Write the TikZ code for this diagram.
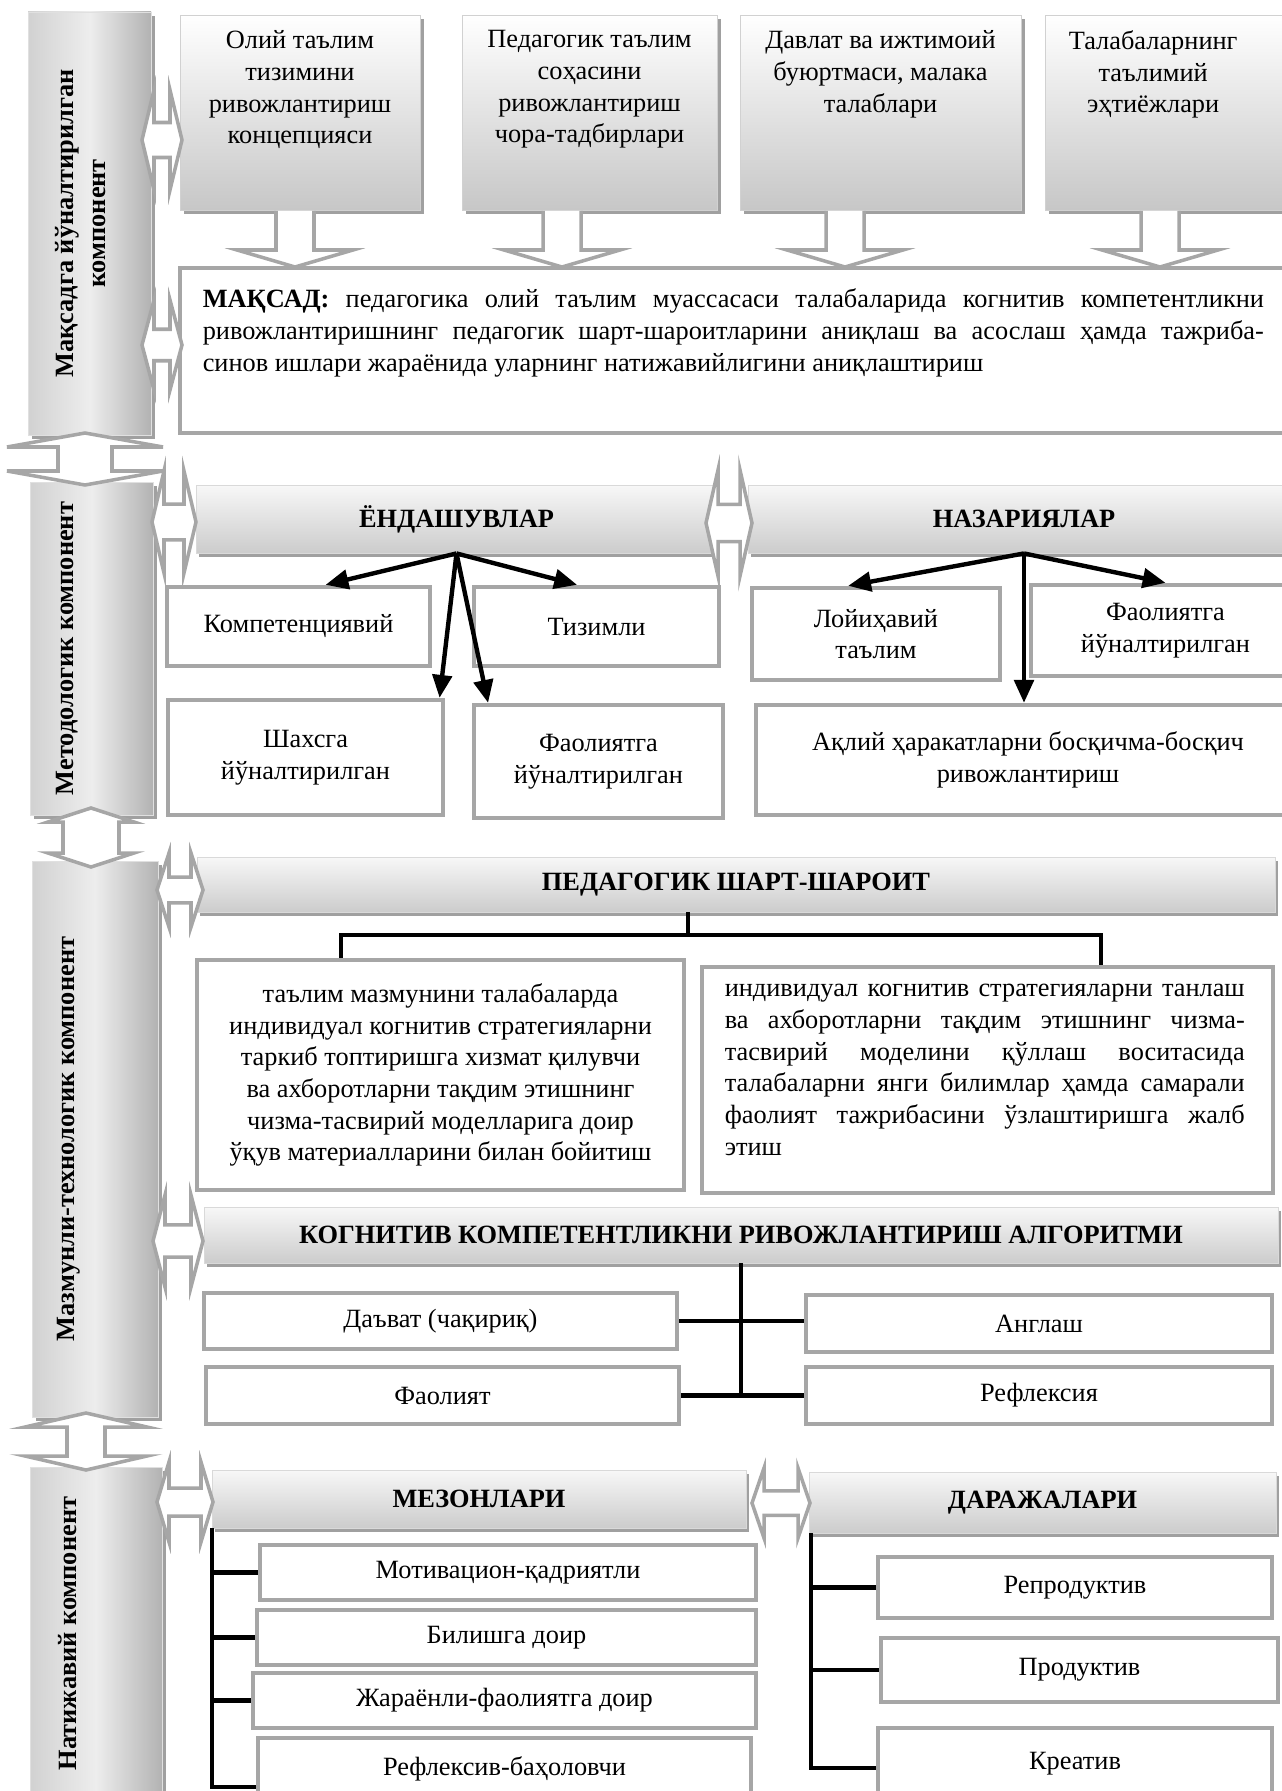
\documentclass[tikz,border=0pt]{standalone}
\usepackage{fontspec}
\setmainfont{Liberation Serif}
\usetikzlibrary{arrows.meta,positioning,shadows}

\definecolor{framegray}{RGB}{166,166,166}
\definecolor{shadowgray}{RGB}{160,160,160}
\newcommand\boxfont{\fontsize{15}{18}\selectfont}
\newcommand\fullline[2]{\makebox[#1][s]{#2}}

% grey block arrows: centre x, centre y, half width, half height
\newcommand\lrarr[4]{%
  \draw[blockarrow] (#1-#3,#2) -- (#1-#3+12,#2-#4) -- (#1-#3+12,#2-0.35*#4)
    -- (#1+#3-12,#2-0.35*#4) -- (#1+#3-12,#2-#4) -- (#1+#3,#2)
    -- (#1+#3-12,#2+#4) -- (#1+#3-12,#2+0.35*#4) -- (#1-#3+12,#2+0.35*#4)
    -- (#1-#3+12,#2+#4) -- cycle;}
% centre x, top tip, bottom tip, head half width, shaft half width
\newcommand\udarr[5]{%
  \draw[blockarrow] (#1,#2) -- (#1+#4,#2+14) -- (#1+#5,#2+14) -- (#1+#5,#3-14)
    -- (#1+#4,#3-14) -- (#1,#3) -- (#1-#4,#3-14) -- (#1-#5,#3-14)
    -- (#1-#5,#2+14) -- (#1-#4,#2+14) -- cycle;}
\newcommand\dnarr[1]{%
  \draw[blockarrow] (#1-19,211) -- (#1-19,250) -- (#1-58,250) -- (#1,267)
    -- (#1+58,250) -- (#1+19,250) -- (#1+19,211);}

\tikzset{
  sz/.style 2 args={minimum width=#1*0.02cm, minimum height=#2*0.02cm},
  plainbox/.style={draw=framegray, line width=2.5pt, fill=white, inner sep=0pt,
    align=center, font=\boxfont},
  srcbox/.style={draw=black!18, line width=0.5pt, top color=white, bottom color=black!22,
    inner sep=0pt, drop shadow={shadow xshift=2.2pt, shadow yshift=-2.2pt, fill=shadowgray, opacity=1}},
  headbox/.style={draw=black!15, line width=0.5pt, top color=black!3, bottom color=black!20,
    inner sep=0pt, font=\boxfont\bfseries,
    drop shadow={shadow xshift=1.5pt, shadow yshift=-2.5pt, fill=shadowgray, opacity=1}},
  barbox/.style={draw=black!12, line width=0.5pt, left color=black!18, right color=black!30,
    middle color=black!7, inner sep=0pt,
    drop shadow={shadow xshift=2pt, shadow yshift=-2pt, fill=shadowgray, opacity=1}},
  bartext/.style={rotate=90, align=center, font=\boxfont\bfseries},
  boxtext/.style={align=center, font=\boxfont, inner sep=0pt, anchor=north},
  link/.style={line width=2.5pt, black},
  linkarrow/.style={link, -{Triangle[length=13pt, width=11pt]}},
  blockarrow/.style={draw=framegray, line width=2pt, fill=white, line join=miter},
}

\begin{document}
\begin{tikzpicture}[x=0.02cm, y=-0.02cm]
\useasboundingbox (0,0) rectangle (1281,1791);

% components
\node[barbox, sz={123}{423}] (bar1) at (89.5,223.5) {};
\node[barbox, sz={123}{333}] (bar2) at (91.5,648.5) {};
\node[barbox, sz={126}{556}] (bar3) at (95,1139) {};
\node[barbox, sz={132}{333}] (bar4) at (96,1633.5) {};
\node[bartext] (bar1t) at ([xshift=-5pt]bar1.center) {Мақсадга йўналтирилган\\компонент};
\node[bartext] (bar2t) at ([xshift=-14pt]bar2.center) {Методологик компонент};
\node[bartext] (bar3t) at ([xshift=-15pt]bar3.center) {Мазмунли-технологик компонент};
\node[bartext] (bar4t) at ([xshift=-16pt]bar4.center) {Натижавий компонент};

% goal
\node[srcbox, sz={240}{195}] (src1) at (300,112.5) {};
\node[srcbox, sz={255}{195}] (src2) at (589.5,112.5) {};
\node[srcbox, sz={281}{195}] (src3) at (880.5,112.5) {};
\node[srcbox, sz={255}{195}] (src4) at (1172.5,112.5) {};
\node[boxtext, below=9pt of src1.north] (src1t) {Олий таълим\\тизимини\\ривожлантириш\\концепцияси};
\node[boxtext, below=9pt of src2.north] (src2t) {Педагогик таълим\\соҳасини\\ривожлантириш\\чора-тадбирлари};
\node[boxtext, below=9pt of src3.north] (src3t) {Давлат ва ижтимоий\\буюртмаси, малака\\талаблари};
\node[boxtext, below=9pt of src4.north, xshift=-11pt] (src4t) {Талабаларнинг\\таълимий\\эҳтиёжлари};

\node[plainbox, sz={1120}{165}] (goal) at (740,350.5) {};
\node[below right=13pt and 14pt of goal.north west, align=left, inner sep=0pt, font=\boxfont] (goalt)
  {\fullline{604pt}{\textbf{МАҚСАД:} педагогика олий таълим муассасаси талабаларида когнитив компетентликни}\\
   \fullline{604pt}{ривожлантиришнинг педагогик шарт-шароитларини аниқлаш ва асослаш ҳамда тажриба-}\\
   синов ишлари жараёнида уларнинг натижавийлигини аниқлаштириш};

% approaches and theories
\node[headbox, sz={521}{68}] (hdrA) at (456.5,519) {ЁНДАШУВЛАР};
\node[headbox, sz={552}{68}] (hdrB) at (1024,519) {НАЗАРИЯЛАР};
\node[plainbox, sz={263}{79}] (komp) at (298.5,626.5) {Компетенциявий};
\node[plainbox, sz={245}{79}] (tiz) at (596.5,626.5) {Тизимли};
\node[plainbox, sz={275}{115}] (shax) at (305.5,757.5) {Шахсга\\йўналтирилган};
\node[plainbox, sz={249}{113}] (faoL) at (598.5,761.5) {Фаолиятга\\йўналтирилган};
\node[plainbox, sz={248}{92}] (loy) at (876,634) {Лойиҳавий\\таълим};
\node[plainbox, sz={269}{91}] (faoR) at (1165.5,630.5) {Фаолиятга\\йўналтирилган};
\node[plainbox, sz={544}{110}] (akl) at (1028,760) {Ақлий ҳаракатларни босқичма-босқич\\ривожлантириш};

\draw[linkarrow] (hdrA.south) -- (komp.57);
\draw[linkarrow] (hdrA.south) -- (tiz.115);
\draw[linkarrow] (hdrA.south) -- (shax.24);
\draw[linkarrow] (hdrA.south) -- (faoL.152);
\draw[linkarrow] (hdrB.south) -- (loy.120);
\draw[linkarrow] (hdrB.south) -- (faoR.north);
\draw[linkarrow] (hdrB.south) -- (hdrB.south |- akl.north);

% pedagogical conditions
\node[headbox, sz={1078}{55}] (pedhdr) at (736,884.5) {ПЕДАГОГИК ШАРТ-ШАРОИТ};
\node[plainbox, sz={487}{230}] (pedL) at (440.5,1075) {таълим мазмунини талабаларда\\индивидуал когнитив стратегияларни\\таркиб топтиришга хизмат қилувчи\\ва ахборотларни тақдим этишнинг\\чизма-тасвирий моделларига доир\\ўқув материалларини билан бойитиш};
\node[plainbox, sz={571}{226}] (pedR) at (987.5,1080) {};
\node[below right=11pt and 14pt of pedR.north west, align=left, inner sep=0pt, font=\boxfont] (pedRt)
  {\fullline{296pt}{индивидуал когнитив стратегияларни танлаш}\\
   \fullline{296pt}{ва ахборотларни тақдим этишнинг чизма-}\\
   \fullline{296pt}{тасвирий моделини қўллаш воситасида}\\
   \fullline{296pt}{талабаларни янги билимлар ҳамда самарали}\\
   \fullline{296pt}{фаолият тажрибасини ўзлаштиришга жалб}\\
   этиш};
\coordinate (pedfork) at (688,935);
\coordinate (pedforkL) at (341,935);
\coordinate (pedforkR) at (1101,935);
\draw[link] (pedhdr.south -| pedfork) -- (pedfork);
\draw[link] (pedL.north -| pedforkL) -- (pedforkL) -- (pedforkR) -- (pedR.north -| pedforkR);

% algorithm
\node[headbox, sz={1074}{56}] (alghdr) at (741,1235) {КОГНИТИВ КОМПЕТЕНТЛИКНИ РИВОЖЛАНТИРИШ АЛГОРИТМИ};
\node[plainbox, sz={473}{56}] (dav) at (440.5,1321) {Даъват (чақириқ)};
\node[plainbox, sz={473}{57}] (fao) at (442.5,1395.5) {Фаолият};
\node[plainbox, sz={466}{57}] (ang) at (1039,1323.5) {Англаш};
\node[plainbox, sz={466}{57}] (ref) at (1039,1395.5) {Рефлексия};
\coordinate (algx) at (741,0);
\draw[link] (alghdr.south -| algx) -- (algx |- fao.east);
\draw[link] (dav.east) -- (dav.east -| ang.west);
\draw[link] (fao.east) -- (fao.east -| ref.west);

% criteria and levels
\node[headbox, sz={534}{58}] (mezhdr) at (479,1499) {МЕЗОНЛАРИ};
\node[headbox, sz={467}{61}] (darhdr) at (1042.5,1502.5) {ДАРАЖАЛАРИ};
\node[plainbox, sz={496}{55}] (mez1) at (508,1572.5) {Мотивацион-қадриятли};
\node[plainbox, sz={499}{55}] (mez2) at (506.5,1637.5) {Билишга доир};
\node[plainbox, sz={503}{55}] (mez3) at (504.5,1700.5) {Жараёнли-фаолиятга доир};
\node[plainbox, sz={493}{62}] (mez4) at (504.5,1769) {Рефлексив-баҳоловчи};
\node[plainbox, sz={394}{61}] (dar1) at (1075,1587.5) {Репродуктив};
\node[plainbox, sz={397}{64}] (dar2) at (1079.5,1670) {Продуктив};
\node[plainbox, sz={394}{72}] (dar3) at (1075,1764) {Креатив};
\coordinate (mezbot) at (212,1787);
\coordinate (darbot) at (811,1768);
\draw[link] (mezhdr.south -| mezbot) -- (mezbot) -- (mezbot -| mez4.west);
\draw[link] (mezbot |- mez1.west) -- (mez1.west);
\draw[link] (mezbot |- mez2.west) -- (mez2.west);
\draw[link] (mezbot |- mez3.west) -- (mez3.west);
\draw[link] (darhdr.south -| darbot) -- (darbot) -- (darbot -| dar3.west);
\draw[link] (darbot |- dar1.west) -- (dar1.west);
\draw[link] (darbot |- dar2.west) -- (dar2.west);

% block arrows
\udarr{85}{433}{485}{78}{27}
\udarr{91}{808}{867}{43}{28}
\udarr{86}{1413}{1470}{61}{19}
\lrarr{162}{140}{20}{50}
\lrarr{162}{345}{20}{45}
\lrarr{174}{522}{22}{51}
\lrarr{729}{523}{23}{53}
\lrarr{180}{890}{23}{37}
\lrarr{178}{1241}{25}{46}
\lrarr{185}{1502}{28}{40}
\lrarr{781}{1503}{29}{35}
\dnarr{295}
\dnarr{562}
\dnarr{845}
\dnarr{1160}
\end{tikzpicture}
\end{document}
